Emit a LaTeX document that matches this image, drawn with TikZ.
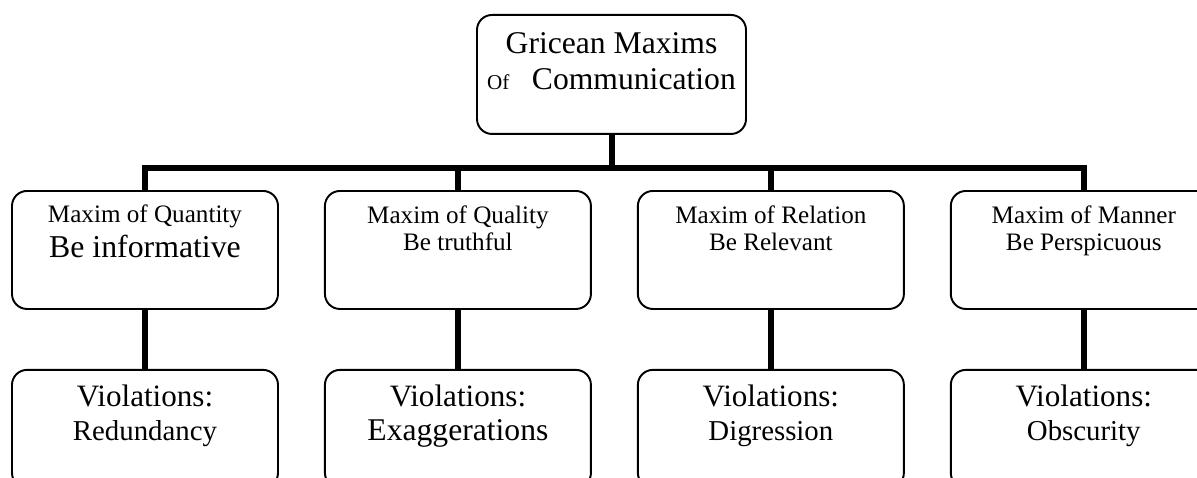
\documentclass[tikz,border=0pt]{standalone}
\usepackage{fontspec}
\setmainfont{Liberation Serif}
\usetikzlibrary{positioning}

\begin{document}
\begin{tikzpicture}[node distance=0.9cm]
	\tikzstyle{box}=[draw, rounded corners=0.3cm, line width=1.1pt, align=center, inner xsep=0pt, inner ysep=0pt, anchor=north]
	\tikzstyle{maxim}=[box, minimum width=5.32cm, text height=1.2cm, text depth=1.16cm, font=\fontsize{14.3}{15.9}\selectfont]
	\tikzstyle{violation}=[box, minimum width=5.32cm, text height=1.42cm, text depth=0.94cm, font=\fontsize{17.7}{19.8}\selectfont]
	\tikzstyle{link}=[line width=0.12cm]
	\useasboundingbox (0,0) rectangle (23.94,-9.56);
		\node[box, minimum width=5.38cm, text height=1.5cm, text depth=0.88cm, font=\fontsize{18}{21}\selectfont] (top) at (12.23,-0.28) {Gricean Maxims\\{\fontsize{12}{14}\selectfont Of}\hspace{0.45cm}Communication};
		\node[maxim, text height=1.34cm, text depth=1.02cm] (q1) at (2.9,-3.8) {Maxim of Quantity\\[0.16cm]{\fontsize{18.1}{20.4}\selectfont Be informative}};
		\node[maxim] (q2) [right=of q1] {Maxim of Quality\\Be truthful};
		\node[maxim] (q3) [right=of q2] {Maxim of Relation\\Be Relevant};
		\node[maxim] (q4) [right=of q3] {Maxim of Manner\\Be Perspicuous};
		\node[violation] (v1) [below=1.18cm of q1] {Violations:\\{\fontsize{16.4}{19.8}\selectfont Redundancy}};
		\node[violation] (v2) [below=1.18cm of q2] {Violations:\\{\fontsize{18}{19.8}\selectfont Exaggerations}};
		\node[violation] (v3) [below=1.18cm of q3] {Violations:\\{\fontsize{16.4}{19.8}\selectfont Digression}};
		\node[violation] (v4) [below=1.18cm of q4] {Violations:\\{\fontsize{16.4}{19.8}\selectfont Obscurity}};
		\coordinate[below=0.66cm of top] (bar);
			\draw[link] (top) -- (bar);
			\draw[link] (q1.north) |- (bar) -| (q4.north);
			\draw[link] (q2.north) -- (q2.north |- bar);
			\draw[link] (q3.north) -- (q3.north |- bar);
			\draw[link] (q1) -- (v1);
			\draw[link] (q2) -- (v2);
			\draw[link] (q3) -- (v3);
			\draw[link] (q4) -- (v4);
\end{tikzpicture}
\end{document}
